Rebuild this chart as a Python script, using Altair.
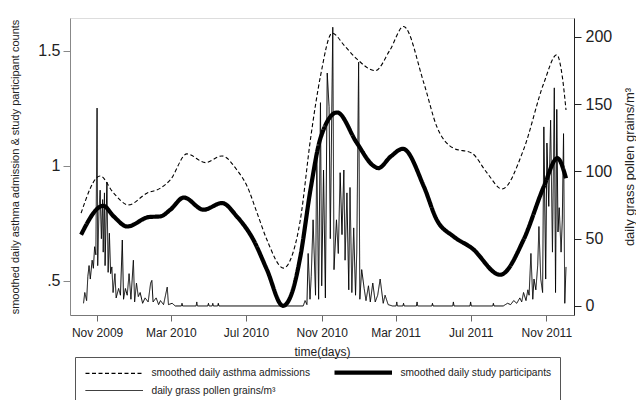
import altair as alt
import pandas as pd

BASE = "2009-11-01"  # day offsets below are counted from this date

series_names = [
    "smoothed daily asthma admissions",
    "smoothed daily study participants",
    "daily grass pollen grains/m³",
]

asthma_day = [-26, 5, 27, 51, 81, 103, 119, 146, 176, 203, 227, 244, 260, 276, 303, 314,
              330, 347, 363, 382, 403, 422, 452, 476, 498, 531, 552, 579, 609, 634, 658,
              693, 726, 747, 756, 762]
asthma_value = [0.794, 0.956, 0.881, 0.830, 0.881, 0.903, 0.939, 1.052, 1.014, 1.043, 0.983,
                0.910, 0.795, 0.678, 0.555, 0.59, 0.76, 1.12, 1.39, 1.577, 1.519, 1.465,
                1.414, 1.504, 1.606, 1.36, 1.171, 1.077, 1.055, 0.968, 0.899, 1.07, 1.36,
                1.483, 1.388, 1.243]

participant_day = [-26, 10, 27, 49, 84, 103, 119, 141, 173, 203, 227, 254, 276, 302, 317,
                   330, 347, 363, 390, 422, 449, 457, 477, 497, 531, 552, 579, 609, 655,
                   693, 726, 748, 762]
participant_value = [0.70, 0.826, 0.780, 0.736, 0.777, 0.78, 0.809, 0.862, 0.809, 0.838,
                     0.78, 0.678, 0.548, 0.391, 0.45, 0.60, 0.90, 1.12, 1.232, 1.10, 1.0,
                     0.99, 1.04, 1.074, 0.91, 0.765, 0.693, 0.642, 0.526, 0.678, 0.91,
                     1.033, 0.946]

pollen_day = [-22, -20, -17, -15, -13, -11, -8, -6, -4, -2, 0, 1, 3, 5, 7, 9, 10, 12, 13,
              16, 18, 20, 22, 24, 26, 29, 31, 35, 38, 41, 43, 46, 49, 52, 55, 59, 61, 64,
              67, 70, 74, 78, 83, 87, 89, 91, 96, 100, 103, 108, 114, 116, 122, 127,
              137, 138, 139, 161, 162, 163, 180, 181, 182, 187, 188, 189, 196, 197, 198,
              335, 338, 341, 343, 346, 348, 351, 355, 357, 360, 363, 365, 368, 371, 374,
              377, 379, 383, 385, 389, 392, 395, 398, 401, 403, 406, 409, 411, 414, 417,
              420, 422, 425, 427, 430, 434, 437, 441, 444, 448, 452, 456, 460, 465, 468,
              473, 480,
              486, 487, 488, 497, 498, 499, 519, 520, 521, 544, 545, 546, 578, 579, 580,
              606, 607, 608, 643, 644, 645,
              660, 667, 672, 677, 682, 687, 690, 693, 697, 700, 702, 705, 708, 710, 713,
              716, 718, 721, 724, 726, 729, 731, 734, 737, 740, 743, 745, 747, 749, 751,
              754, 756, 758, 760, 762]
pollen_value = [2, 10, 4, 22, 30, 20, 34, 28, 44, 38, 147, 30, 70, 86, 50, 79, 40, 84, 30,
                92, 25, 54, 24, 29, 10, 24, 6, 13, 8, 49, 5, 13, 8, 24, 5, 34, 3, 17,
                7, 10, 2, 6, 3, 17, 19, 3, 6, 1, 4, 1, 14, 1, 2, 0,
                0, 2, 0, 0, 3, 0, 0, 2, 0, 0, 2, 0, 0, 2, 0,
                0, 4, 1, 39, 5, 22, 64, 8, 118, 5, 151, 15, 101, 6, 173,
                148, 50, 207, 27, 64, 39, 99, 53, 101, 34, 84, 12, 88, 10, 58,
                8, 40, 181, 5, 27, 13, 4, 15, 3, 17, 3, 8, 20, 2, 8,
                1, 0,
                0, 3, 0, 0, 2, 0, 0, 3, 0, 0, 2, 0, 0, 3, 0,
                0, 3, 0, 0, 2, 0,
                0, 2, 1, 4, 2, 6, 3, 10, 4, 12, 8, 39, 5, 20, 12,
                30, 59, 20, 10, 133, 20, 121, 74, 138, 40, 162, 10, 146, 55, 73,
                40, 64, 128, 2, 29]

left_ticks = [0.5, 1, 1.5]
right_ticks = [0, 50, 100, 150, 200]
x_tick_months = [(2009, 11), (2010, 3), (2010, 7), (2010, 11), (2011, 3), (2011, 7), (2011, 11)]


def to_dates(days):
    return list((pd.Timestamp(BASE) + pd.to_timedelta(days, unit="D")).strftime("%Y-%m-%d"))


smooth_df = pd.concat([
    pd.DataFrame({"date": to_dates(asthma_day), "value": asthma_value, "series": series_names[0]}),
    pd.DataFrame({"date": to_dates(participant_day), "value": participant_value, "series": series_names[1]}),
], ignore_index=True)
pollen_df = pd.DataFrame({"date": to_dates(pollen_day), "value": pollen_value, "series": series_names[2]})

FONT = "Liberation Sans"
W, H = 504, 297

x_enc = alt.X(
    "date:T",
    scale=alt.Scale(type="utc", domain=[alt.DateTime(year=2009, month=9, date=18, utc=True),
                                        alt.DateTime(year=2011, month=12, date=16, utc=True)]),
    axis=alt.Axis(
        values=[alt.DateTime(year=y, month=m, date=1, utc=True) for y, m in x_tick_months],
        format="%b %Y", title="time(days)", grid=False,
        labelFontSize=12, labelColor="#222", labelPadding=6, tickSize=6,
        tickColor="#666", domainColor="#777",
        titleFontSize=12, titleFontWeight="normal", titleColor="#222",
        titleY=36, titleBaseline="middle",
    ),
)

# legend order (filled column by column): asthma, pollen | participants
legend_order = [series_names[0], series_names[2], series_names[1]]
legend = alt.Legend(
    title=None, orient="none", legendX=5, legendY=339, columns=2,
    symbolType="M-1,0H10.5", symbolSize=100, symbolStrokeColor="black",
    symbolFillColor="transparent",
    labelFont=FONT, labelFontSize=10.2, labelColor="#222", labelOffset=53.5, labelLimit=400,
    columnPadding=15, rowPadding=4, padding=8, strokeColor="#555",
)
dash_scale = alt.Scale(domain=legend_order, range=[[4, 2.5], [1, 0], [1, 0]])
width_scale = alt.Scale(type="ordinal", domain=legend_order, range=[1.1, 1, 4.2])

pollen = alt.Chart(pollen_df).mark_line(color="black").encode(
    x=x_enc,
    y=alt.Y("value:Q",
            scale=alt.Scale(domain=[-6.7, 213.9], nice=False, zero=False),
            axis=alt.Axis(orient="right", values=right_ticks, format="d", grid=False,
                          title="daily grass pollen grains/m³",
                          titleFontSize=13, titleFontWeight="normal", titleColor="#222",
                          titleAngle=270, titleX=55, titleY=H / 2, titleAlign="center",
                          titleBaseline="middle",
                          labelFontSize=16, labelColor="#222", labelPadding=4, tickSize=7,
                          tickColor="#222", domainColor="#222")),
    strokeDash=alt.StrokeDash("series:N", scale=dash_scale, legend=legend),
    strokeWidth=alt.StrokeWidth("series:N", scale=width_scale, legend=legend),
    order=alt.Order("date:T"),
)

smooth = alt.Chart(smooth_df).mark_line(color="black", interpolate="monotone").encode(
    x=x_enc,
    y=alt.Y("value:Q",
            scale=alt.Scale(domain=[0.351, 1.643], nice=False, zero=False),
            axis=alt.Axis(orient="left", values=left_ticks, grid=False,
                          labelExpr="datum.value < 1 ? '.5' : format(datum.value, '~g')",
                          title="smoothed daily asthma admission & study participant counts",
                          titleFontSize=11, titleFontWeight="normal", titleColor="#222",
                          titleAngle=270, titleX=-55, titleY=H / 2, titleAlign="center",
                          titleBaseline="middle",
                          labelFontSize=16, labelColor="#222", labelPadding=3, tickSize=7,
                          tickColor="#888", domainColor="#888")),
    strokeDash=alt.StrokeDash("series:N", scale=dash_scale, legend=legend),
    strokeWidth=alt.StrokeWidth("series:N", scale=width_scale, legend=legend),
    detail="series:N",
)

chart = alt.layer(pollen, smooth).resolve_scale(y="independent").properties(
    width=W, height=H,
    padding={"left": 62, "top": 10, "right": 62, "bottom": 85},
    autosize=alt.AutoSizeParams(type="none"),
    background="white",
).configure_view(stroke=None).configure(font=FONT)

chart.save("out.html", embed_options={"renderer": "svg", "actions": False})
